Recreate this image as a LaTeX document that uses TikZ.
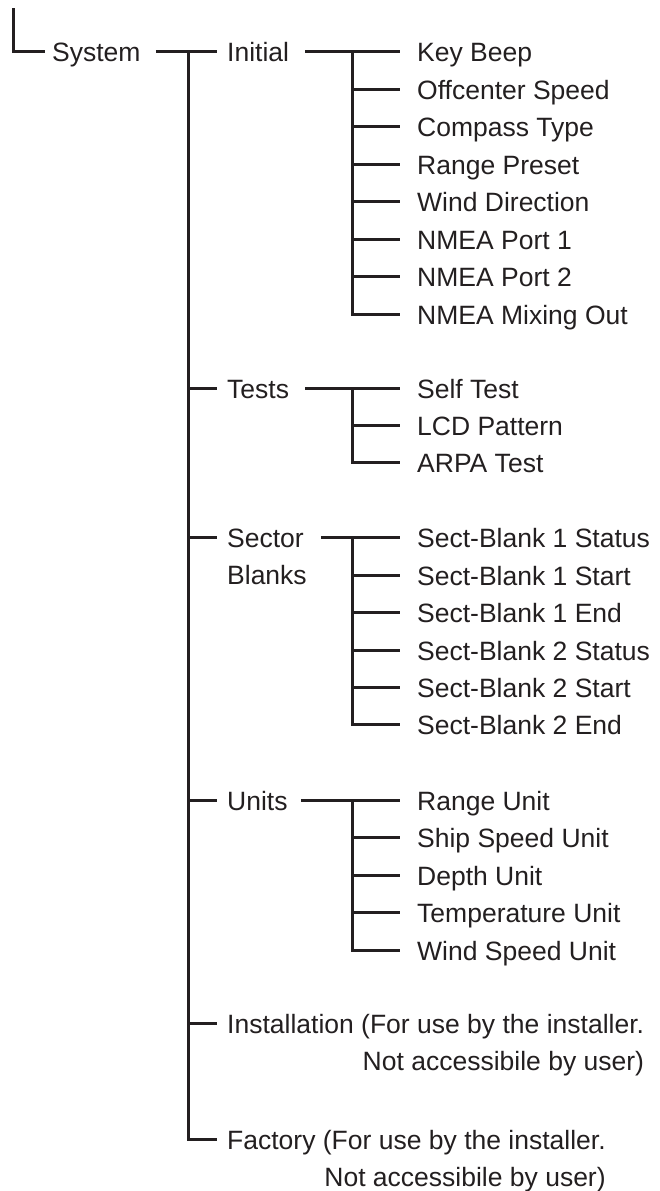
\documentclass[tikz,border=0pt]{standalone}
\usepackage{fontspec}
\setmainfont{Liberation Sans}
\definecolor{ink}{RGB}{35,31,32}
\tikzset{
  lbl/.style={anchor=west,inner sep=0pt,text height=19pt,text depth=0pt},
  lbltwo/.style={anchor=base west,inner sep=0pt},
  link/.style={line width=3pt,draw=ink},
}
\begin{document}
\begin{tikzpicture}[x=1pt,y=-1pt, every node/.style={font=\fontsize{26.5}{37.5}\selectfont,text=ink}]
\useasboundingbox (0,0) rectangle (659,1191);
\coordinate (top) at (13.5,8);
\coordinate (main) at (188.5,51.5);
\coordinate (subcol) at (352.5,0);
\node[lbl] (system) at (52,51.5) {System};
% second level
\node[lbl] (initial) at (227,51.5) {Initial};
\node[lbl] (tests) at (227,388.5) {Tests};
\node[lbltwo,align=left] (sector) at (227,584.5) {Sector\\Blanks};
\node[lbl] (units) at (227,800.5) {Units};
\node[lbltwo,align=right] (install) at (227,1070.5) {Installation (For use by the installer.\\Not accessibile by user)};
\node[lbltwo,align=right] (factory) at (227,1186.5) {Factory (For use by the installer.\\Not accessibile by user)};
\coordinate (sectorL) at ([xshift=-10pt,yshift=47pt]sector.base west);
\coordinate (installL) at ([xshift=-10pt,yshift=47pt]install.base west);
\coordinate (factoryL) at ([xshift=-10pt,yshift=47pt]factory.base west);
% Initial
\node[lbl] (beep) at (417,51.5) {Key Beep};
\node[lbl] (offc) at (417,89.5) {Offcenter Speed};
\node[lbl] (comp) at (417,126.5) {Compass Type};
\node[lbl] (rng) at (417,164.5) {Range Preset};
\node[lbl] (wind) at (417,201.5) {Wind Direction};
\node[lbl] (nmeaa) at (417,239.5) {NMEA Port 1};
\node[lbl] (nmeab) at (417,276.5) {NMEA Port 2};
\node[lbl] (mix) at (417,314.5) {NMEA Mixing Out};
% Tests
\node[lbl] (self) at (417,388.5) {Self Test};
\node[lbl] (lcd) at (417,425.5) {LCD Pattern};
\node[lbl] (arpa) at (417,462.5) {ARPA Test};
% Sector Blanks
\node[lbl] (sbas) at (417,537.5) {Sect-Blank 1 Status};
\node[lbl] (sbab) at (417,575.5) {Sect-Blank 1 Start};
\node[lbl] (sbae) at (417,612.5) {Sect-Blank 1 End};
\node[lbl] (sbbs) at (417,650.5) {Sect-Blank 2 Status};
\node[lbl] (sbbb) at (417,687.5) {Sect-Blank 2 Start};
\node[lbl] (sbbe) at (417,724.5) {Sect-Blank 2 End};
% Units
\node[lbl] (rngu) at (417,800.5) {Range Unit};
\node[lbl] (shipu) at (417,837.5) {Ship Speed Unit};
\node[lbl] (depu) at (417,875.5) {Depth Unit};
\node[lbl] (tempu) at (417,912.5) {Temperature Unit};
\node[lbl] (windu) at (417,950.5) {Wind Speed Unit};
% connectors
\draw[link] (top) |- ([xshift=-7pt]system.west);
\draw[link] ([xshift=15pt]system.east) -- ([xshift=-10pt]initial.west);
\draw[link] (main) |- (factoryL);
\draw[link] (main |- tests) -- ([xshift=-10pt]tests.west);
\draw[link] (main |- sectorL) -- (sectorL);
\draw[link] (main |- units) -- ([xshift=-10pt]units.west);
\draw[link] (main |- installL) -- (installL);
\draw[link] ([xshift=16pt]initial.east) -- ([xshift=-17pt]beep.west);
\draw[link] (subcol |- beep) |- ([xshift=-17pt]mix.west);
\draw[link] (subcol |- offc) -- ([xshift=-17pt]offc.west);
\draw[link] (subcol |- comp) -- ([xshift=-17pt]comp.west);
\draw[link] (subcol |- rng) -- ([xshift=-17pt]rng.west);
\draw[link] (subcol |- wind) -- ([xshift=-17pt]wind.west);
\draw[link] (subcol |- nmeaa) -- ([xshift=-17pt]nmeaa.west);
\draw[link] (subcol |- nmeab) -- ([xshift=-17pt]nmeab.west);
\draw[link] ([xshift=16pt]tests.east) -- ([xshift=-17pt]self.west);
\draw[link] (subcol |- self) |- ([xshift=-17pt]arpa.west);
\draw[link] (subcol |- lcd) -- ([xshift=-17pt]lcd.west);
\draw[link] ([xshift=14pt,yshift=47pt]sector.base east) -- ([xshift=-17pt]sbas.west);
\draw[link] (subcol |- sbas) |- ([xshift=-17pt]sbbe.west);
\draw[link] (subcol |- sbab) -- ([xshift=-17pt]sbab.west);
\draw[link] (subcol |- sbae) -- ([xshift=-17pt]sbae.west);
\draw[link] (subcol |- sbbs) -- ([xshift=-17pt]sbbs.west);
\draw[link] (subcol |- sbbb) -- ([xshift=-17pt]sbbb.west);
\draw[link] ([xshift=13pt]units.east) -- ([xshift=-17pt]rngu.west);
\draw[link] (subcol |- rngu) |- ([xshift=-17pt]windu.west);
\draw[link] (subcol |- shipu) -- ([xshift=-17pt]shipu.west);
\draw[link] (subcol |- depu) -- ([xshift=-17pt]depu.west);
\draw[link] (subcol |- tempu) -- ([xshift=-17pt]tempu.west);
\end{tikzpicture}
\end{document}
